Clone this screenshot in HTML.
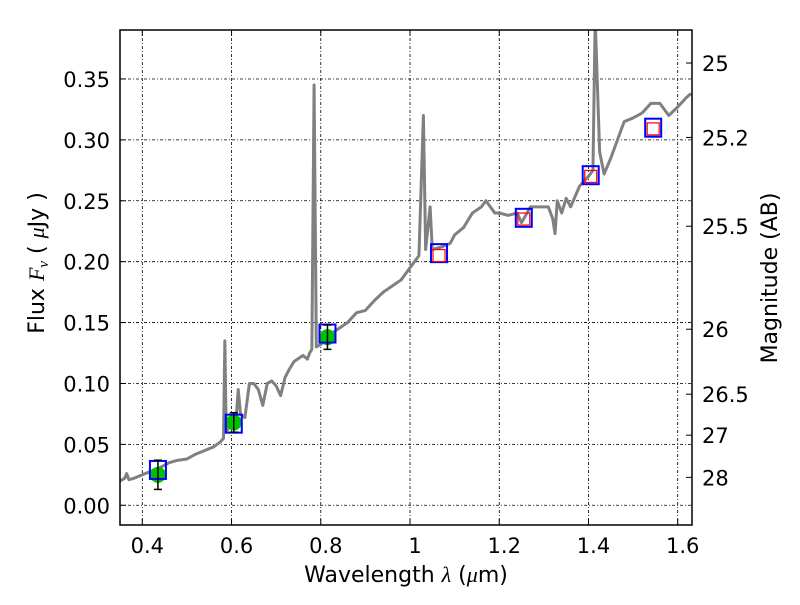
<!DOCTYPE html>
<html><head><meta charset="utf-8"><style>
body{margin:0;background:#fff}
svg text{font-family:"DejaVu Sans","Liberation Sans",sans-serif;fill:#000}
</style></head><body>
<svg id="c" width="800" height="600"></svg>
<script>
const specWave=[0.35,0.36,0.365,0.37,0.38,0.40,0.42,0.44,0.46,0.48,0.50,0.52,0.54,0.56,0.575,0.582,0.585,0.588,0.60,0.61,0.615,0.62,0.63,0.64,0.65,0.66,0.67,0.68,0.69,0.70,0.71,0.72,0.73,0.74,0.76,0.77,0.775,0.78,0.785,0.79,0.80,0.82,0.84,0.86,0.88,0.90,0.92,0.94,0.96,0.98,1.00,1.02,1.03,1.035,1.045,1.05,1.07,1.09,1.10,1.12,1.14,1.16,1.17,1.19,1.20,1.22,1.24,1.25,1.27,1.29,1.31,1.32,1.325,1.33,1.34,1.35,1.36,1.38,1.40,1.41,1.415,1.425,1.435,1.45,1.47,1.48,1.50,1.52,1.54,1.56,1.58,1.60,1.62,1.63];
const specFlux=[0.020,0.022,0.026,0.021,0.022,0.025,0.028,0.031,0.035,0.037,0.038,0.042,0.045,0.048,0.052,0.055,0.135,0.060,0.068,0.070,0.095,0.075,0.072,0.100,0.100,0.095,0.082,0.100,0.102,0.098,0.090,0.105,0.112,0.118,0.123,0.120,0.125,0.128,0.345,0.130,0.132,0.140,0.145,0.150,0.158,0.160,0.168,0.175,0.180,0.185,0.195,0.205,0.320,0.210,0.245,0.210,0.212,0.215,0.222,0.228,0.240,0.245,0.250,0.240,0.240,0.238,0.240,0.232,0.245,0.245,0.245,0.235,0.223,0.250,0.240,0.252,0.245,0.262,0.270,0.275,0.400,0.290,0.272,0.285,0.305,0.315,0.318,0.322,0.330,0.330,0.320,0.327,0.335,0.338];
const obsWave=[0.435,0.605,0.815];
const obsFlux=[0.025,0.068,0.138];
const obsErr=[0.012,0.008,0.010];
const modelWave=[0.435,0.605,0.815,1.065,1.255,1.405,1.545];
const modelFlux=[0.029,0.067,0.141,0.207,0.236,0.271,0.310];
const redWave=[1.065,1.255,1.405,1.545];
const redFlux=[0.205,0.235,0.270,0.309];
const xTicks=[0.4,0.6,0.8,1.0,1.2,1.4,1.6];
const xTickLabels=["0.4","0.6","0.8","1","1.2","1.4","1.6"];
const yTicks=[0,0.05,0.10,0.15,0.20,0.25,0.30,0.35];
const yTickLabels=["0.00","0.05","0.10","0.15","0.20","0.25","0.30","0.35"];
const magTicks=[25,25.2,25.5,26,26.5,27,28];
const magTickLabels=["25","25.2","25.5","26","26.5","27","28"];

const L=120,R=692,T=30,B=525,X0=0.35,X1=1.632,Y0=-0.0162,Y1=0.3902;
const sx=v=>L+(v-X0)/(X1-X0)*(R-L);
const sy=v=>B-(v-Y0)/(Y1-Y0)*(B-T);
const svg=document.getElementById('c');
const NS='http://www.w3.org/2000/svg';
function mk(t,a,p){const e=document.createElementNS(NS,t);for(const k in a)e.setAttribute(k,a[k]);(p||svg).appendChild(e);return e;}

const defs=mk('clipPath',{id:'clip'});mk('rect',{x:L,y:T,width:R-L,height:B-T},defs);
const DASH='3,2,1,2';
xTicks.forEach((v,i)=>{const x=sx(v);
 const g=mk('line',{x1:x,x2:x,y1:T,y2:B,stroke:'#000','stroke-width':0.8,'stroke-dasharray':DASH});
 
 mk('line',{x1:x,x2:x,y1:B,y2:B-6,stroke:'#000'});mk('line',{x1:x,x2:x,y1:T,y2:T+6,stroke:'#000'});
 const t=mk('text',{x:x+5,y:B+28,'text-anchor':'middle','font-size':21});t.textContent=xTickLabels[i];
 });
yTicks.forEach((v,i)=>{const y=sy(v);
 const g=mk('line',{x1:L,x2:R,y1:y,y2:y,stroke:'#000','stroke-width':0.8,'stroke-dasharray':DASH});
 
 mk('line',{x1:L,x2:L+6,y1:y,y2:y,stroke:'#000'});
 const t=mk('text',{x:L-10,y:y+8,'text-anchor':'end','font-size':21});t.textContent=yTickLabels[i];
 });
magTicks.forEach((m,i)=>{const f=Math.pow(10,(23.9-m)/2.5);const y=sy(f);
 mk('line',{x1:R,x2:R-6,y1:y,y2:y,stroke:'#000'});
 const t=mk('text',{x:R+10,y:y+8,'font-size':21});t.textContent=magTickLabels[i];
 });

const gp=mk('g',{'clip-path':'url(#clip)'});
const pl=mk('polyline',{points:specWave.map((w,i)=>sx(w)+','+sy(specFlux[i])).join(' '),fill:'none',stroke:'#808080','stroke-width':3,'stroke-linejoin':'round'},gp);


obsWave.forEach((w,i)=>{const x=sx(w),y=sy(obsFlux[i]);
 const c=mk('circle',{cx:x,cy:y,r:8,fill:'#00c000'});
 });
modelWave.forEach((w,i)=>{const x=sx(w),y=sy(modelFlux[i]);
 const r=mk('rect',{x:x-8,y:y-9,width:16,height:18,fill:'none',stroke:'#0000ff','stroke-width':2});
 });
redWave.forEach((w,i)=>{const x=sx(w),y=sy(redFlux[i]);
 const r=mk('rect',{x:x-6,y:y-6,width:12,height:12,fill:'none',stroke:'#ff0000','stroke-width':1.2});
 });
obsWave.forEach((w,i)=>{const x=sx(w),y1=sy(obsFlux[i]-obsErr[i]),y2=sy(obsFlux[i]+obsErr[i]);
 const e=mk('line',{x1:x,x2:x,y1:y1,y2:y2,stroke:'#000','stroke-width':1.5});
 
 mk('line',{x1:x-4,x2:x+4,y1:y1,y2:y1,stroke:'#000','stroke-width':1.5});
 mk('line',{x1:x-4,x2:x+4,y1:y2,y2:y2,stroke:'#000','stroke-width':1.5});});

const fr=mk('rect',{x:L,y:T,width:R-L,height:B-T,fill:'none',stroke:'#000','stroke-width':1.5});


const xl=mk('text',{x:406,y:582,'text-anchor':'middle','font-size':22});
xl.innerHTML='Wavelength  <tspan font-style="italic" font-family="Liberation Serif">λ</tspan> (<tspan font-style="italic" font-family="Liberation Serif">μ</tspan>m)';

const yl=mk('text',{x:0,y:0,'text-anchor':'middle','font-size':22,transform:'translate(44,263) rotate(-90)'});
yl.innerHTML='Flux  <tspan font-style="italic" font-family="Liberation Serif">F<tspan font-size="15" dy="4">ν</tspan></tspan><tspan dy="-4">  (  </tspan><tspan font-style="italic" font-family="Liberation Serif">μ</tspan>Jy )';

const ml=mk('text',{x:0,y:0,'text-anchor':'middle','font-size':22,transform:'translate(777,278) rotate(-90)'});
ml.textContent='Magnitude (AB)';

</script>
</body></html>
